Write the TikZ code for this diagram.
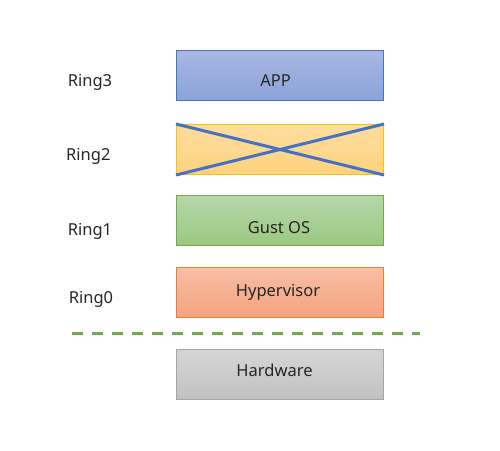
\documentclass[tikz,border=0pt]{standalone}
\usepackage{fontspec}
\setmainfont{Noto Sans}
\usepackage{xcolor}
\usepackage{tikz}
\definecolor{appline}{HTML}{4472C4}
\definecolor{ringline}{HTML}{FFC000}
\definecolor{osline}{HTML}{70AD47}
\definecolor{hvline}{HTML}{ED7D31}
\definecolor{hwline}{HTML}{A5A5A5}

\begin{document}
\begin{tikzpicture}[x=1pt,y=-1pt,
    box/.style={draw, line width=1pt, minimum width=207pt, minimum height=50pt, inner sep=0pt},
    txt/.style={font=\fontsize{16.5}{19}\selectfont, text=black!85, anchor=base, inner sep=0pt}]
    \useasboundingbox (0,0) rectangle (500,450);

    \node[box, draw=appline, top color={rgb,255:red,169;green,183;blue,226}, bottom color={rgb,255:red,139;green,162;blue,217}] (app) at (280,75.5) {};
    \node[box, draw=ringline, top color={rgb,255:red,254;green,221;blue,158}, bottom color={rgb,255:red,253;green,210;blue,125}] (ringbox) at (280,149.5) {};
    \node[box, draw=osline, top color={rgb,255:red,182;green,215;blue,168}, bottom color={rgb,255:red,156;green,199;blue,129}] (os) at (280,220.5) {};
    \node[box, draw=hvline, top color={rgb,255:red,247;green,190;blue,167}, bottom color={rgb,255:red,244;green,163;blue,126}] (hv) at (280,292.5) {};
    \node[box, draw=hwline, top color={rgb,255:red,213;green,213;blue,213}, bottom color={rgb,255:red,193;green,193;blue,193}] (hw) at (280,374.5) {};

    \node[txt] (apptext) at (275.5,86.7) {APP};
    \node[txt] (ostext) at (279,233) {Gust OS};
    \node[txt] (hvtext) at (278,296) {Hypervisor};
    \node[txt] (hwtext) at (274.5,376) {Hardware};

    \node[txt] (r3) at (90,86.7) {Ring3};
    \node[txt] (r2) at (88.3,160) {Ring2};
    \node[txt] (r1) at (90,235) {Ring1};
    \node[txt] (r0) at (91,303.3) {Ring0};

    % cross over ring2
    \draw[appline, line width=3pt] (ringbox.north west) -- (ringbox.south east)
                                   (ringbox.south west) -- (ringbox.north east);

    \coordinate (dl) at (72,333.5);
    \coordinate (dr) at (420,333.5);
    \draw[osline, line width=3pt, dash pattern=on 11pt off 9pt] (dl) -- (dr);
\end{tikzpicture}
\end{document}
